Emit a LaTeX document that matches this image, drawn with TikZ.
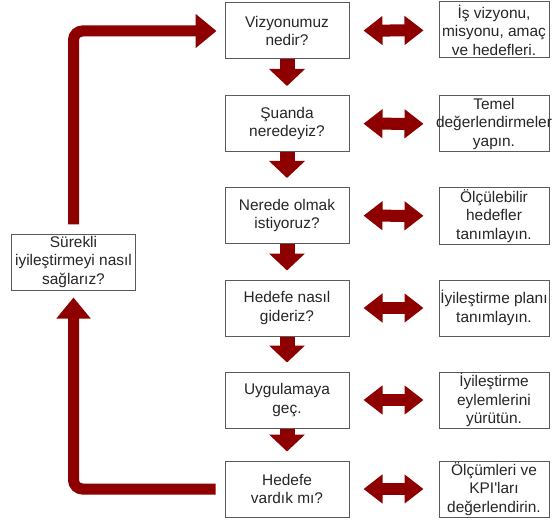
\documentclass[tikz,border=0pt]{standalone}
\usepackage{fontspec}
\setmainfont{Liberation Sans}
\usepackage{xcolor}
\usetikzlibrary{arrows.meta}
\definecolor{FlowRed}{HTML}{8E0000}
\definecolor{BoxLine}{HTML}{5A5A5A}
\definecolor{BoxText}{HTML}{262626}
\tikzset{
  askbox/.style={draw=BoxLine,line width=1bp,fill=white,minimum width=124bp,minimum height=56bp,align=center,inner sep=0pt,text=BoxText,font=\fontsize{15.5}{18.5}\selectfont},
  actbox/.style={askbox,minimum width=110bp},
  downarrow/.style={FlowRed,line width=15bp,-{Triangle[length=17bp,width=35bp]},shorten >=9bp},
  dblarrow/.style={FlowRed,line width=12bp,{Triangle[length=19bp,width=28bp]}-{Triangle[length=19bp,width=28bp]},shorten <=14bp,shorten >=15bp},
  looparrow/.style={FlowRed,line width=11bp,rounded corners=9bp,-{Triangle[length=21bp,width=33bp]},shorten <=9bp}
}
\newcommand{\askbox}[3]{\node[askbox] (#1) at (#2) {#3};}
\newcommand{\actbox}[3]{\node[actbox] (#1) at (#2) {#3};}
% long lines run over the box edge
\newcommand{\overrun}[1]{\makebox[100bp][c]{#1}}

\begin{document}
\begin{tikzpicture}[x=1bp,y=-1bp]
  \useasboundingbox (0,0) rectangle (552,524);
  % question column
  \askbox{vision}{287,31}{Vizyonumuz\\nedir?}
  \askbox{now}{287,123.5}{Şuanda\\neredeyiz?}
  \askbox{target}{287,215.5}{Nerede olmak\\istiyoruz?}
  \askbox{route}{287,308}{Hedefe nasıl\\gideriz?}
  \askbox{apply}{287,400}{Uygulamaya\\geç.}
  \askbox{check}{287,489}{Hedefe\\vardık mı?}
  % action column
  \actbox{visionact}{494,30}{İş vizyonu,\\misyonu, amaç\\ve hedefleri.}
  \actbox{nowact}{494,124}{Temel\\\overrun{değerlendirmeler}\\yapın.}
  \actbox{targetact}{494,216}{Ölçülebilir\\hedefler\\tanımlayın.}
  \actbox{routeact}{494,308}{\overrun{İyileştirme planı}\\tanımlayın.}
  \actbox{applyact}{494,400}{İyileştirme\\eylemlerini\\yürütün.}
  \actbox{checkact}{494,489}{Ölçümleri ve\\KPI\textquotesingle ları\\değerlendirin.}
  % loop back
  \askbox{improve}{73.5,262}{Sürekli\\iyileştirmeyi nasıl\\sağlarız?}
  \foreach \a/\b in {vision/now,now/target,target/route,route/apply,apply/check}
    \draw[downarrow] (\a) -- (\b);
  \foreach \a in {vision,now,target,route,apply,check}
    \draw[dblarrow] (\a) -- (\a act);
  \draw[looparrow,shorten >=7bp] (check.west) -| (improve.south);
  \draw[looparrow,shorten >=8bp] (improve.north) |- (vision.west);
\end{tikzpicture}
\end{document}
